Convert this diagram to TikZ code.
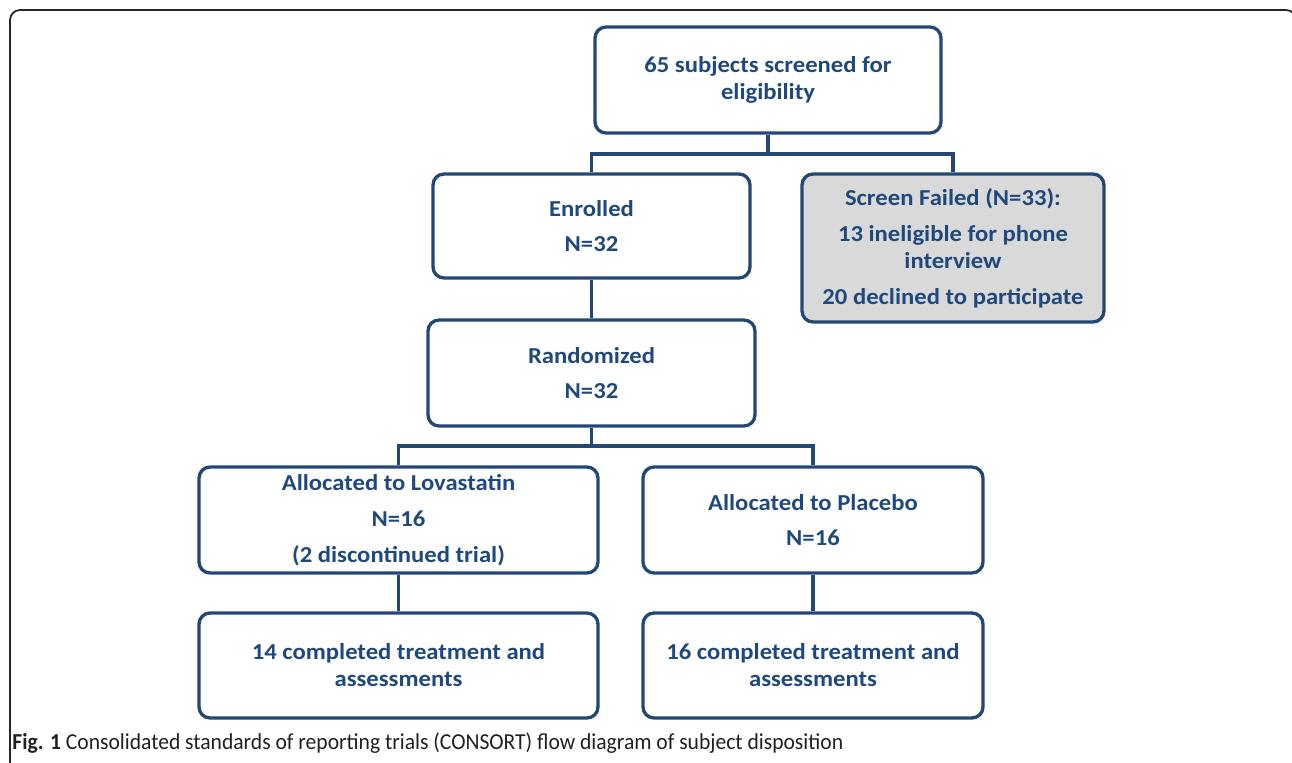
\documentclass[tikz,border=0pt]{standalone}
\usepackage{fontspec}
\setmainfont{Carlito}
\newfontfamily\boxfont[FakeStretch=1.08]{Carlito}
\newfontfamily\capfont[FakeStretch=0.945]{Carlito}
\usetikzlibrary{positioning}

\definecolor{boxline}{RGB}{36,72,118}
\definecolor{boxtext}{RGB}{31,73,125}
\definecolor{failgray}{RGB}{217,217,217}
\definecolor{captext}{RGB}{35,31,32}

\tikzset{
  flowbox/.style={draw=boxline, line width=1.9pt, rounded corners=0.22cm,
    fill=white, text=boxtext, align=center, inner sep=0pt,
    font=\boxfont\fontsize{13}{15.4}\selectfont\bfseries},
  failbox/.style={flowbox, fill=failgray},
  link/.style={draw=boxline, line width=1.9pt}
}

\begin{document}
\begin{tikzpicture}[x=0.02cm, y=-0.02cm]
  \useasboundingbox (0,0) rectangle (1292,762);
  % outer frame
  \draw [line width=1pt, black!85, rounded corners=0.2cm] (10,780)--(10,10)--(1296,10)--(1296,780);

  % boxes
  \node [flowbox, minimum width=6.92cm, minimum height=2.12cm] (screened) at (768,80)
    {65 subjects screened for\\eligibility};
  \node [flowbox, minimum width=6.34cm, minimum height=2.08cm] (enrolled) at (591.5,226)
    {Enrolled\\[5pt]N=32};
  \node [failbox, minimum width=6.04cm, minimum height=2.96cm] (failed) at (953,248)
    {Screen Failed (N=33):\\[5pt]13 ineligible for phone\\interview\\[5pt]20 declined to participate};
  \node [flowbox, minimum width=6.54cm, minimum height=2.12cm] (random) at (591.5,373)
    {Randomized\\[5pt]N=32};
  \node [flowbox, minimum width=7.98cm, minimum height=2.12cm] (lova) at (398.5,520)
    {Allocated to Lovastatin\\[5pt]N=16\\[5pt](2 discontinued trial)};
  \node [flowbox, minimum width=6.8cm, minimum height=2.12cm] (placebo) at (813,520)
    {Allocated to Placebo\\[5pt]N=16};
  \node [flowbox, minimum width=7.98cm, minimum height=2.1cm] (lovadone) at (398.5,665.5)
    {14 completed treatment and\\assessments};
  \node [flowbox, minimum width=6.8cm, minimum height=2.1cm] (placebodone) at (813,665.5)
    {16 completed treatment and\\assessments};

  % connectors
  \coordinate (split1) at (768,154);
  \coordinate (split2) at (591.5,446);
  \draw [link] (screened)--(split1);
  \draw [link] (enrolled.north) |- (split1) -| (failed.north);
  \draw [link] (enrolled)--(random);
  \draw [link] (random)--(split2);
  \draw [link] (lova.north) |- (split2) -| (placebo.north);
  \draw [link] (lova)--(lovadone);
  \draw [link] (placebo)--(placebodone);

  % caption
  \node [anchor=west, inner sep=0pt, text=captext, font=\capfont\fontsize{13}{15}\selectfont] (caption) at (12,743)
    {\textbf{Fig. 1} Consolidated standards of reporting trials (CONSORT) flow diagram of subject disposition};
\end{tikzpicture}
\end{document}
